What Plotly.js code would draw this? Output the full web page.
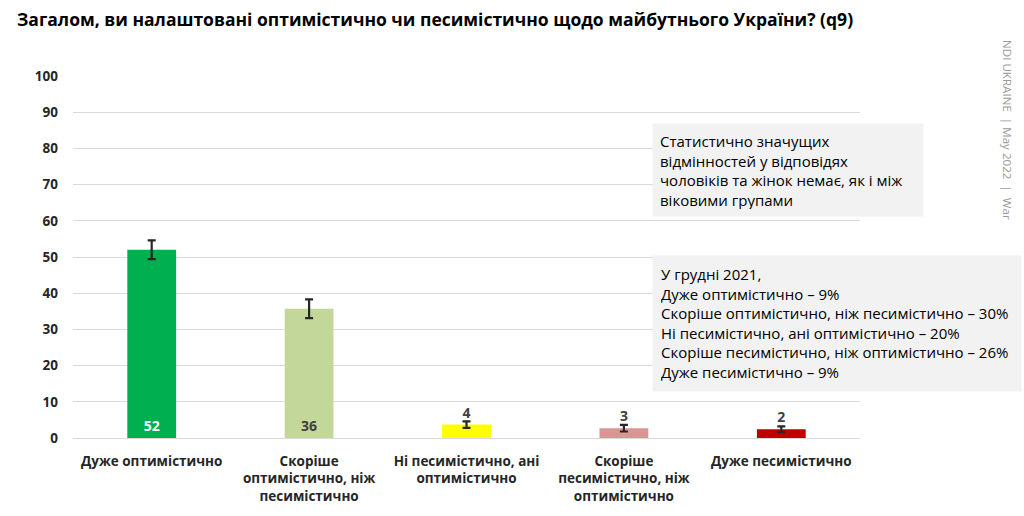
<!DOCTYPE html>
<html>
<head>
<meta charset="utf-8">
<script src="https://cdn.plot.ly/plotly-3.0.1.min.js"></script>
<style>html,body{margin:0;padding:0;background:#fff;}#chart{width:1024px;height:516px;}</style>
</head>
<body>
<div id="chart"></div>
<script>
const categories = [
  "Дуже оптимістично",
  "Скоріше<br>оптимістично, ніж<br>песимістично",
  "Ні песимістично, ані<br>оптимістично",
  "Скоріше<br>песимістично, ніж<br>оптимістично",
  "Дуже песимістично"
];
const values = [52, 35.7, 3.7, 2.7, 2.4];
const errors = [2.6, 2.6, 0.9, 0.9, 0.8];
const valueLabels = ["52", "36", "4", "3", "2"];
const barColors = ["#00b050", "#c4d79b", "#ffff00", "#da9694", "#c00000"];
const labelColors = ["#ffffff", "#404040", "#404040", "#404040", "#404040"];
const labelPositions = ["inside", "inside", "outside", "outside", "outside"];
const yTicks = [0, 10, 20, 30, 40, 50, 60, 70, 80, 90, 100];

const titleText = "Загалом, ви налаштовані оптимістично чи песимістично щодо майбутнього України? (q9)";
const note1 = "Статистично значущих<br>відмінностей у відповідях<br>чоловіків та жінок немає, як і між<br>віковими групами";
const note2 = "У грудні 2021,<br>Дуже оптимістично – 9%<br>Скоріше оптимістично, ніж песимістично – 30%<br>Ні песимістично, ані оптимістично – 20%<br>Скоріше песимістично, ніж оптимістично – 26%<br>Дуже песимістично – 9%";
const sideNote = "NDI UKRAINE  | May 2022  |  War";

const FONT = "Open Sans, Noto Sans, sans-serif";

const trace = {
  type: "bar",
  x: categories,
  y: values,
  marker: {color: barColors},
  text: valueLabels,
  textposition: labelPositions,
  insidetextanchor: "start",
  textfont: {family: FONT, size: 14, color: labelColors, weight: "bold"},
  constraintext: "none",
  cliponaxis: false,
  error_y: {type: "data", array: errors, visible: true, color: "#262626", thickness: 2.2, width: 4},
  hoverinfo: "skip"
};

const L = 73, R = 860, T = 76, B = 438;
const px = v => (v - L) / (R - L);
const py = v => (B - v) / (B - T);

const layout = {
  width: 1024, height: 516,
  margin: {l: L, r: 1024 - R, t: T, b: 516 - B, pad: 0},
  paper_bgcolor: "#ffffff",
  plot_bgcolor: "#ffffff",
  showlegend: false,
  bargap: 0.69,
  title: {
    text: "<b>" + titleText + "</b>",
    font: {family: FONT, size: 17.5, color: "#000000"},
    xref: "container", yref: "container",
    x: 17 / 1024, xanchor: "left",
    y: 1 - 20 / 516, yanchor: "middle"
  },
  xaxis: {
    type: "category",
    showgrid: false,
    showline: false,
    zeroline: false,
    ticks: "",
    tickfont: {family: FONT, size: 13.5, color: "#262626", weight: "bold"},
    ticklabelstandoff: 13,
    fixedrange: true
  },
  yaxis: {
    range: [0, 100],
    tickvals: yTicks,
    ticktext: yTicks.map(String),
    showgrid: true,
    gridcolor: "#d9d9d9",
    gridwidth: 1,
    zeroline: true,
    zerolinecolor: "#d9d9d9",
    zerolinewidth: 1,
    showline: false,
    ticks: "",
    tickfont: {family: FONT, size: 13.5, color: "#262626", weight: "bold"},
    ticklabelstandoff: 14,
    fixedrange: true
  },
  annotations: [
    {
      xref: "paper", yref: "paper",
      x: px(652), y: py(123), xanchor: "left", yanchor: "top",
      text: note1, align: "left", valign: "top", showarrow: false,
      bgcolor: "#f2f2f2", borderpad: 7,
      width: 256, height: 78,
      font: {family: FONT, size: 15, color: "#000000"}
    },
    {
      xref: "paper", yref: "paper",
      x: px(652), y: py(255), xanchor: "left", yanchor: "top",
      text: note2, align: "left", valign: "top", showarrow: false,
      bgcolor: "#f2f2f2", borderpad: 8,
      width: 352, height: 119,
      font: {family: FONT, size: 15, color: "#000000"}
    },
    {
      xref: "paper", yref: "paper",
      x: px(1008), y: py(130), xanchor: "center", yanchor: "middle",
      text: sideNote, textangle: 90, showarrow: false,
      font: {family: FONT, size: 11.6, color: "#9a9a9a"}
    }
  ]
};

Plotly.newPlot("chart", [trace], layout, {displayModeBar: false, staticPlot: true});
</script>
</body>
</html>
